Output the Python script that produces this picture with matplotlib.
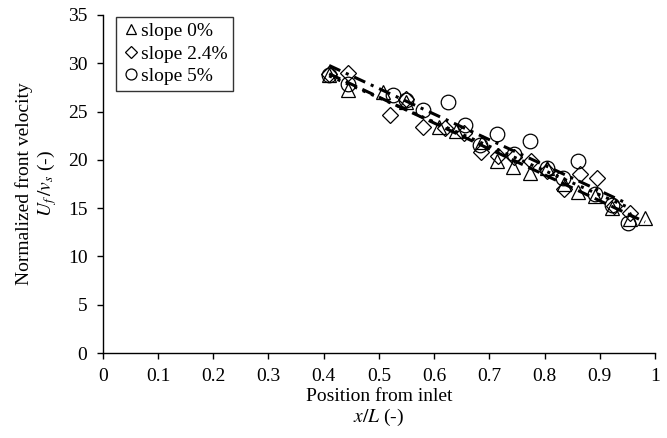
import numpy as np
import matplotlib
matplotlib.use("Agg")
import matplotlib.pyplot as plt

# ── Data ──────────────────────────────────────────────────────────────────────
tri_x = [0.41, 0.445, 0.508, 0.55, 0.608, 0.64, 0.687, 0.714, 0.743, 0.774,
         0.805, 0.835, 0.861, 0.892, 0.922, 0.955, 0.982]
tri_y = [28.8, 27.2, 27.0, 26.0, 23.4, 23.0, 21.8, 19.9, 19.3, 18.6,
         19.2, 17.5, 16.7, 16.3, 15.0, 13.9, 14.0]

dia_x = [0.41, 0.445, 0.52, 0.55, 0.58, 0.62, 0.655, 0.685, 0.715, 0.745,
         0.775, 0.805, 0.835, 0.865, 0.895, 0.925, 0.955]
dia_y = [28.9, 29.0, 24.6, 26.3, 23.4, 23.3, 22.8, 20.8, 20.4, 20.3,
         19.9, 18.8, 17.0, 18.5, 18.1, 15.2, 14.5]

cir_x = [0.41, 0.445, 0.525, 0.55, 0.58, 0.626, 0.656, 0.684, 0.714, 0.745,
         0.774, 0.805, 0.834, 0.861, 0.892, 0.922, 0.951]
cir_y = [28.8, 27.8, 26.7, 26.2, 25.2, 26.0, 23.6, 21.5, 22.7, 20.6,
         21.9, 19.2, 18.1, 19.9, 16.5, 15.3, 13.5]

x_ticks = [0, 0.1, 0.2, 0.3, 0.4, 0.5, 0.6, 0.7, 0.8, 0.9, 1]
x_ticklabels = ["0", "0.1", "0.2", "0.3", "0.4", "0.5", "0.6", "0.7", "0.8", "0.9", "1"]
y_ticks = [0, 5, 10, 15, 20, 25, 30, 35]

# ── Style ─────────────────────────────────────────────────────────────────────
plt.rcParams["font.family"] = ["Liberation Serif", "DejaVu Serif"]
plt.rcParams["mathtext.fontset"] = "stix"
plt.rcParams["font.size"] = 14

fig = plt.figure(figsize=(6.67, 4.38), dpi=100)
ax = fig.add_axes([0.154, 0.194, 0.828, 0.772])

series = [
    (tri_x, tri_y, "^", "slope 0%", (0, (4, 2))),
    (dia_x, dia_y, "D", "slope 2.4%", (0, (1, 2))),
    (cir_x, cir_y, "o", "slope 5%", (0, (4, 2, 1, 2))),
]

for xs, ys, m, lab, ls in series:
    ms = 8.5 if m == "D" else 10.5
    ax.plot(xs, ys, linestyle="none", marker=m, markersize=ms,
            markerfacecolor="none", markeredgecolor="black",
            markeredgewidth=0.9, label=lab)
    # linear trend line through each series
    k, b = np.polyfit(xs, ys, 1)
    xl = np.array([min(xs), max(xs)])
    ax.plot(xl, k * xl + b, color="black", linewidth=2.2, linestyle=ls)

ax.set_xlim(0, 1)
ax.set_ylim(0, 35)
ax.set_xticks(x_ticks)
ax.set_xticklabels(x_ticklabels)
ax.set_yticks(y_ticks)
ax.tick_params(direction="out", length=4, width=1, colors="black", pad=7)
for s in ["top", "right"]:
    ax.spines[s].set_visible(False)
for s in ["left", "bottom"]:
    ax.spines[s].set_linewidth(1.0)

ax.set_xlabel("Position from inlet\n$x/L$ (-)", linespacing=1.15, labelpad=2)
ax.set_ylabel("Normalized front velocity\n$U_f\\,/v_s$ (-)", linespacing=1.15,
              labelpad=6)

leg = ax.legend(loc="upper left", bbox_to_anchor=(0.02, 1.0),
                frameon=True, fancybox=False, handletextpad=0.0,
                handlelength=1.0, borderpad=0.3, labelspacing=0.25,
                borderaxespad=0.1, fontsize=14, markerscale=0.75)
leg.get_frame().set_edgecolor("black")
leg.get_frame().set_linewidth(1.0)

fig.savefig("out.png", dpi=100)
